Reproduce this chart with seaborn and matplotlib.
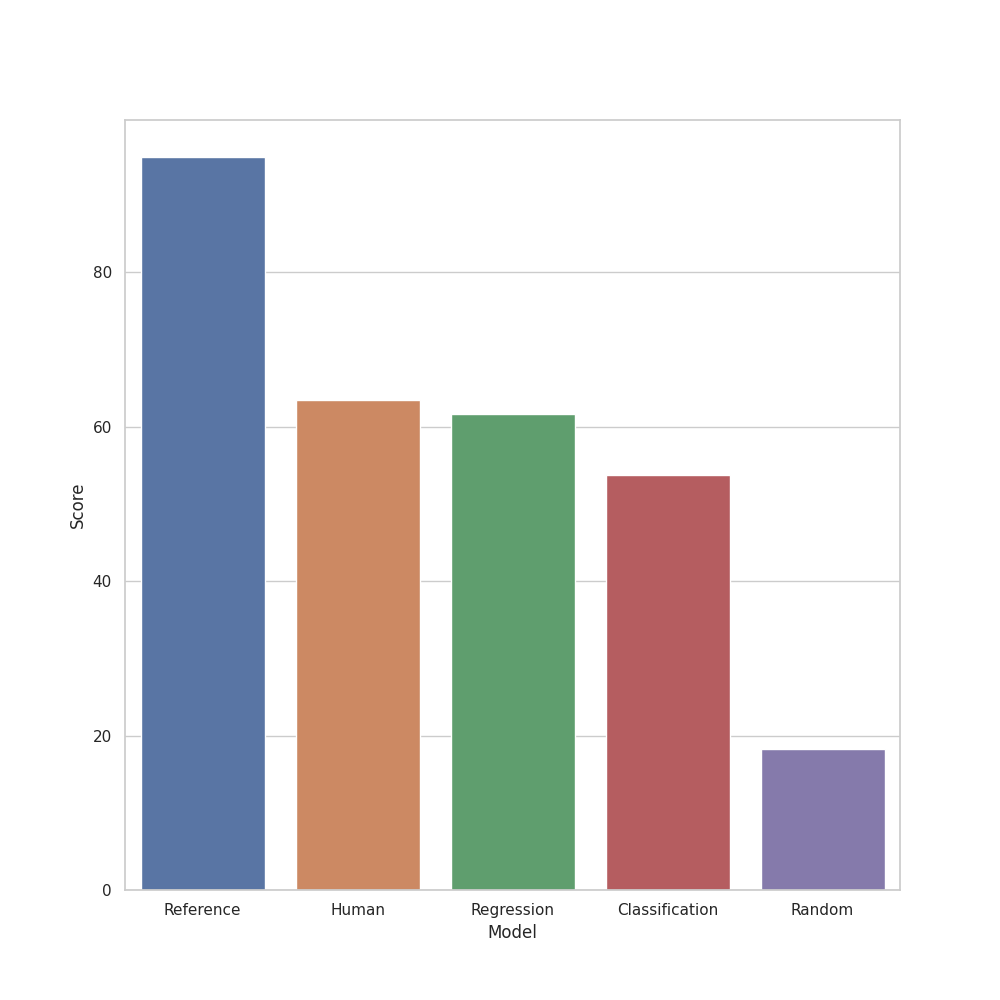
import matplotlib
matplotlib.use("Agg")
import matplotlib.pyplot as plt
import seaborn as sns
import pandas as pd

models = ["Reference", "Human", "Regression", "Classification", "Random"]
scores = [95.0, 63.5, 61.7, 53.7, 18.3]

sns.set_theme(style="whitegrid")
df = pd.DataFrame({"Model": models, "Score": scores})
fig, ax = plt.subplots(figsize=(10, 10), dpi=100)
sns.barplot(data=df, x="Model", y="Score", hue="Model", palette="deep", legend=False, ax=ax)
fig.savefig("out.png")
